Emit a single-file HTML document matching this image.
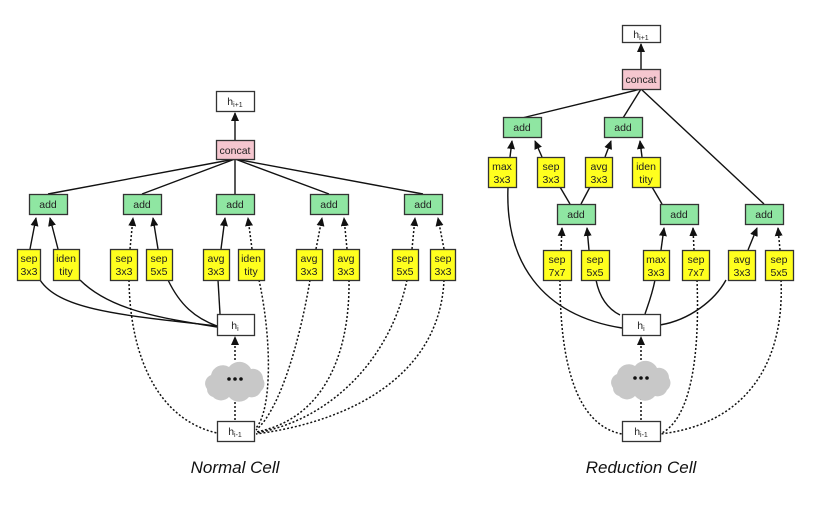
<!DOCTYPE html>
<html><head><meta charset="utf-8"><style>
html,body{margin:0;padding:0;background:#fff;}
svg{display:block;font-family:"Liberation Sans",sans-serif;}
.y{fill:#ffff1e;stroke:#333;stroke-width:1.3}
.g{fill:#8fe6a2;stroke:#333;stroke-width:1.3}
.p{fill:#f5c6cf;stroke:#333;stroke-width:1.3}
.w{fill:#fff;stroke:#333;stroke-width:1.3}
.s{fill:none;stroke:#111;stroke-width:1.4}
.d{fill:none;stroke:#111;stroke-width:1.5;stroke-dasharray:2 2}
text{font-size:10.5px;fill:#222;text-anchor:middle}
.cap{font-size:17px;font-style:italic;fill:#111}
</style></head><body>
<svg width="831" height="513" viewBox="0 0 831 513">
<defs><marker id="a" markerWidth="9" markerHeight="8" refX="8" refY="4" orient="auto" markerUnits="userSpaceOnUse"><path d="M0,0L9,4L0,8z" fill="#111"/></marker>
<g id="cloud"><path d="M-28,10 a9,9 0 0 1 4,-14 a12,12 0 0 1 18,-8 a13,13 0 0 1 22,2 a10,10 0 0 1 12,10 a9,9 0 0 1 -2,12 a10,10 0 0 1 -12,6 a13,13 0 0 1 -20,0 a11,11 0 0 1 -16,0 a8,8 0 0 1 -6,-8z" fill="#c8c8c8"/><circle cx="-6" cy="0" r="1.8" fill="#111"/><circle cx="0" cy="0" r="1.8" fill="#111"/><circle cx="6" cy="0" r="1.8" fill="#111"/></g></defs>

<g>
<line class="s" x1="235" y1="140" x2="235" y2="113" marker-end="url(#a)"/>
<line class="s" x1="235" y1="159" x2="48" y2="194"/>
<line class="s" x1="235" y1="159" x2="142" y2="194"/>
<line class="s" x1="235" y1="159" x2="235" y2="194"/>
<line class="s" x1="235" y1="159" x2="329" y2="194"/>
<line class="s" x1="235" y1="159" x2="423" y2="194"/>
<line class="s" x1="30" y1="249" x2="36" y2="218" marker-end="url(#a)"/>
<line class="s" x1="58" y1="249" x2="50" y2="218" marker-end="url(#a)"/>
<line class="d" x1="130" y1="249" x2="133" y2="218" marker-end="url(#a)"/>
<line class="s" x1="158" y1="249" x2="153" y2="218" marker-end="url(#a)"/>
<line class="s" x1="221" y1="249" x2="225" y2="218" marker-end="url(#a)"/>
<line class="d" x1="252" y1="249" x2="248" y2="218" marker-end="url(#a)"/>
<line class="d" x1="316" y1="249" x2="322" y2="218" marker-end="url(#a)"/>
<line class="d" x1="347" y1="249" x2="344" y2="218" marker-end="url(#a)"/>
<line class="d" x1="412" y1="249" x2="415" y2="218" marker-end="url(#a)"/>
<line class="d" x1="444" y1="249" x2="438" y2="218" marker-end="url(#a)"/>
<path class="s" d="M40,280 C60,310 120,315 217,326"/>
<path class="s" d="M80,280 C110,310 160,318 217,327"/>
<path class="s" d="M168,280 C180,305 195,318 217,326"/>
<line class="s" x1="218" y1="280" x2="220" y2="314"/>
<path class="d" d="M129,280 C130,360 160,420 217,433"/>
<path class="d" d="M259,280 C272,340 272,410 256,428"/>
<path class="d" d="M310,280 C300,340 280,410 256,430"/>
<path class="d" d="M349,280 C350,360 320,420 256,432"/>
<path class="d" d="M407,280 C390,360 330,420 256,433"/>
<path class="d" d="M444,280 C440,370 360,420 256,434"/>
<line class="d" x1="235" y1="420" x2="235" y2="398"/>
<line class="d" x1="235" y1="360" x2="235" y2="337" marker-end="url(#a)"/>
<use href="#cloud" x="235" y="379"/>

<rect class="w" x="216.5" y="91.5" width="38" height="20"/><text x="235" y="105" font-size="11">h<tspan font-size="7" dy="2">i+1</tspan></text>
<rect class="p" x="216.5" y="140.5" width="38" height="19"/><text x="235" y="154">concat</text>
<rect class="g" x="29.5" y="194.5" width="38" height="20"/><text x="48" y="208">add</text>
<rect class="g" x="123.5" y="194.5" width="38" height="20"/><text x="142" y="208">add</text>
<rect class="g" x="216.5" y="194.5" width="38" height="20"/><text x="235" y="208">add</text>
<rect class="g" x="310.5" y="194.5" width="38" height="20"/><text x="329" y="208">add</text>
<rect class="g" x="404.5" y="194.5" width="38" height="20"/><text x="423" y="208">add</text>
<g>
<rect class="y" x="17.5" y="249.5" width="23" height="31"/><text x="29" y="262">sep</text><text x="29" y="275">3x3</text>
<rect class="y" x="53.5" y="249.5" width="26" height="31"/><text x="66" y="262">iden</text><text x="66" y="275">tity</text>
<rect class="y" x="110.5" y="249.5" width="27" height="31"/><text x="124" y="262">sep</text><text x="124" y="275">3x3</text>
<rect class="y" x="146.5" y="249.5" width="26" height="31"/><text x="159" y="262">sep</text><text x="159" y="275">5x5</text>
<rect class="y" x="203.5" y="249.5" width="26" height="31"/><text x="216" y="262">avg</text><text x="216" y="275">3x3</text>
<rect class="y" x="238.5" y="249.5" width="26" height="31"/><text x="251" y="262">iden</text><text x="251" y="275">tity</text>
<rect class="y" x="296.5" y="249.5" width="26" height="31"/><text x="309" y="262">avg</text><text x="309" y="275">3x3</text>
<rect class="y" x="333.5" y="249.5" width="26" height="31"/><text x="346" y="262">avg</text><text x="346" y="275">3x3</text>
<rect class="y" x="392.5" y="249.5" width="26" height="31"/><text x="405" y="262">sep</text><text x="405" y="275">5x5</text>
<rect class="y" x="430.5" y="249.5" width="25" height="31"/><text x="443" y="262">sep</text><text x="443" y="275">3x3</text>
</g>
<rect class="w" x="217.5" y="314.5" width="37" height="21"/><text x="235" y="329" font-size="11">h<tspan font-size="7" dy="2">i</tspan></text>
<rect class="w" x="217.5" y="421.5" width="37" height="20"/><text x="235" y="435" font-size="11">h<tspan font-size="7" dy="2">i-1</tspan></text>
<text class="cap" x="235" y="473">Normal Cell</text>
</g>

<g>
<line class="s" x1="641" y1="69" x2="641" y2="44" marker-end="url(#a)"/>
<line class="s" x1="641" y1="89" x2="522" y2="118"/>
<line class="s" x1="641" y1="89" x2="623" y2="118"/>
<line class="s" x1="641" y1="89" x2="764" y2="204"/>
<line class="s" x1="510" y1="157" x2="512" y2="141" marker-end="url(#a)"/>
<line class="s" x1="542" y1="157" x2="535" y2="141" marker-end="url(#a)"/>
<line class="s" x1="605" y1="157" x2="611" y2="141" marker-end="url(#a)"/>
<line class="s" x1="642" y1="157" x2="640" y2="141" marker-end="url(#a)"/>
<line class="s" x1="570" y1="204" x2="560" y2="187"/>
<line class="s" x1="581" y1="204" x2="590" y2="187"/>
<line class="s" x1="662" y1="204" x2="652" y2="187"/>
<line class="d" x1="561" y1="250" x2="562" y2="228" marker-end="url(#a)"/>
<line class="s" x1="589" y1="250" x2="587" y2="228" marker-end="url(#a)"/>
<line class="s" x1="661" y1="250" x2="664" y2="228" marker-end="url(#a)"/>
<line class="d" x1="694" y1="250" x2="693" y2="228" marker-end="url(#a)"/>
<line class="s" x1="748" y1="250" x2="757" y2="228" marker-end="url(#a)"/>
<line class="d" x1="780" y1="250" x2="778" y2="228" marker-end="url(#a)"/>
<path class="s" d="M508,187 C505,260 540,315 622,328"/>
<path class="s" d="M596,280 C600,300 610,310 620,315"/>
<path class="s" d="M655,280 C652,295 648,305 645,314"/>
<path class="s" d="M726,280 C715,300 690,320 660,325"/>
<path class="d" d="M560,280 C560,360 575,425 622,434"/>
<path class="d" d="M697,280 C700,360 690,420 660,434"/>
<path class="d" d="M781,280 C785,370 740,425 660,434"/>
<line class="d" x1="641" y1="420" x2="641" y2="397"/>
<line class="d" x1="641" y1="360" x2="641" y2="337" marker-end="url(#a)"/>
<use href="#cloud" x="641" y="378"/>

<rect class="w" x="622.5" y="25.5" width="38" height="17"/><text x="641" y="38" font-size="11">h<tspan font-size="7" dy="2">i+1</tspan></text>
<rect class="p" x="622.5" y="69.5" width="38" height="20"/><text x="641" y="83">concat</text>
<rect class="g" x="503.5" y="117.5" width="38" height="20"/><text x="522" y="131">add</text>
<rect class="g" x="604.5" y="117.5" width="38" height="20"/><text x="623" y="131">add</text>
<rect class="g" x="557.5" y="204.5" width="38" height="20"/><text x="576" y="218">add</text>
<rect class="g" x="660.5" y="204.5" width="38" height="20"/><text x="679" y="218">add</text>
<rect class="g" x="745.5" y="204.5" width="38" height="20"/><text x="764" y="218">add</text>
<rect class="y" x="488.5" y="157.5" width="28" height="30"/><text x="502" y="170">max</text><text x="502" y="183">3x3</text>
<rect class="y" x="537.5" y="157.5" width="27" height="30"/><text x="551" y="170">sep</text><text x="551" y="183">3x3</text>
<rect class="y" x="585.5" y="157.5" width="27" height="30"/><text x="599" y="170">avg</text><text x="599" y="183">3x3</text>
<rect class="y" x="632.5" y="157.5" width="28" height="30"/><text x="646" y="170">iden</text><text x="646" y="183">tity</text>
<rect class="y" x="543.5" y="250.5" width="28" height="30"/><text x="557" y="263">sep</text><text x="557" y="276">7x7</text>
<rect class="y" x="581.5" y="250.5" width="28" height="30"/><text x="595" y="263">sep</text><text x="595" y="276">5x5</text>
<rect class="y" x="643.5" y="250.5" width="26" height="30"/><text x="656" y="263">max</text><text x="656" y="276">3x3</text>
<rect class="y" x="682.5" y="250.5" width="27" height="30"/><text x="696" y="263">sep</text><text x="696" y="276">7x7</text>
<rect class="y" x="728.5" y="250.5" width="27" height="30"/><text x="742" y="263">avg</text><text x="742" y="276">3x3</text>
<rect class="y" x="765.5" y="250.5" width="28" height="30"/><text x="779" y="263">sep</text><text x="779" y="276">5x5</text>
<rect class="w" x="622.5" y="314.5" width="38" height="21"/><text x="641" y="329" font-size="11">h<tspan font-size="7" dy="2">i</tspan></text>
<rect class="w" x="622.5" y="421.5" width="38" height="20"/><text x="641" y="435" font-size="11">h<tspan font-size="7" dy="2">i-1</tspan></text>
<text class="cap" x="641" y="473">Reduction Cell</text>
</g>
</svg>
</body></html>
